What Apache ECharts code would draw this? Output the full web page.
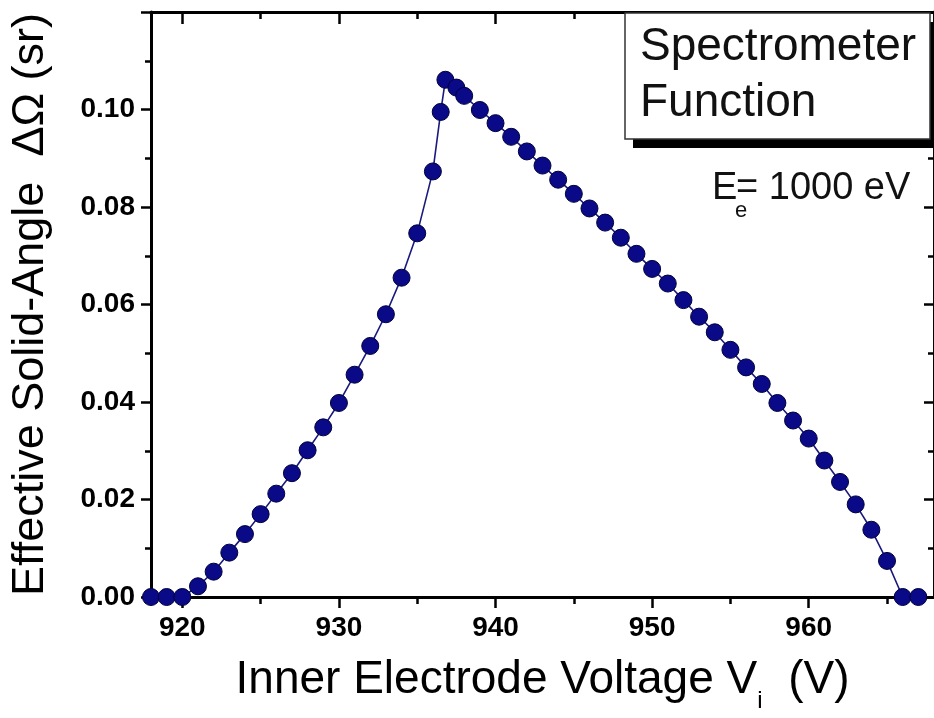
<!DOCTYPE html>
<html>
<head>
<meta charset="utf-8">
<script src="https://cdn.jsdelivr.net/npm/echarts@6/dist/echarts.min.js"></script>
<style>
  html, body { margin: 0; padding: 0; background: #fff; }
  #main { width: 934px; height: 718px; }
</style>
</head>
<body>
<div id="main"></div>
<script>
// 数据：内电极电压 (V) 与有效立体角 (sr)
var voltages = [918, 919, 920, 921, 922, 923, 924, 925, 926, 927, 928, 929,
  930, 931, 932, 933, 934, 935, 936, 936.5, 936.8, 937.5, 938, 939,
  940, 941, 942, 943, 944, 945, 946, 947, 948, 949, 950, 951, 952, 953,
  954, 955, 956, 957, 958, 959, 960, 961, 962, 963, 964, 965, 966, 967];
var solidAngle = [0, 0, 0, 0.0022, 0.0052, 0.0091, 0.0129, 0.0170, 0.0212, 0.0254, 0.0301, 0.0348,
  0.0398, 0.0456, 0.0515, 0.0580, 0.0655, 0.0746, 0.0873, 0.0995, 0.1061, 0.1045, 0.1028, 0.0999,
  0.0972, 0.0944, 0.0914, 0.0885, 0.0856, 0.0827, 0.0797, 0.0768, 0.0737, 0.0704, 0.0673, 0.0643, 0.0609, 0.0575,
  0.0543, 0.0507, 0.0471, 0.0437, 0.0398, 0.0362, 0.0325, 0.0280, 0.0236, 0.0190, 0.0138, 0.0074, 0, 0];

// 刻度
var xLabels = [920, 930, 940, 950, 960];
var xMinor = [925, 935, 945, 955, 965];

var chart = echarts.init(document.getElementById('main'));

var axisLineStyle = { color: '#000', width: 3 };
var fontName = '"Liberation Sans", Arial, sans-serif';
var xMin = 918, xMax = 968;

function xAxisPart(pos, ticks, len, inside, extra) {
  return Object.assign({
    type: 'value',
    position: pos,
    min: xMin,
    max: xMax,
    axisLine: { show: true, onZero: false, lineStyle: axisLineStyle },
    axisTick: { show: true, inside: inside, length: len, customValues: ticks, lineStyle: { color: '#000', width: 2.5 } },
    axisLabel: { show: false },
    splitLine: { show: false }
  }, extra || {});
}

var option = {
  backgroundColor: '#fff',
  animation: false,
  grid: { left: 148, right: -7, top: 12, bottom: 121 },
  xAxis: [
    xAxisPart('bottom', xLabels, 11, false, {
      name: 'Inner Electrode Voltage V{sub|i}  (V)',
      nameLocation: 'middle',
      nameGap: 49,
      nameTextStyle: {
        fontFamily: fontName,
        fontSize: 46,
        color: '#000',
        lineHeight: 66,
        rich: {
          sub: { fontSize: 24, lineHeight: 2, verticalAlign: 'bottom', color: '#000', fontFamily: fontName }
        }
      },
      axisLabel: {
        show: true,
        customValues: xLabels,
        margin: 17,
        fontFamily: fontName,
        fontWeight: 'bold',
        fontSize: 28,
        color: '#000'
      }
    }),
    xAxisPart('bottom', xMinor, 7, false),
    xAxisPart('top', xLabels, 12, true),
    xAxisPart('top', xMinor, 7, true)
  ],
  yAxis: [
    {
      type: 'value',
      position: 'left',
      min: 0,
      max: 0.12,
      interval: 0.02,
      name: 'Effective Solid-Angle  \u0394\u03A9 (sr)',
      nameLocation: 'middle',
      nameGap: 98,
      nameTextStyle: {
        fontFamily: fontName,
        fontSize: 45,
        color: '#000'
      },
      axisLine: { show: true, onZero: false, lineStyle: axisLineStyle },
      axisTick: { show: true, inside: false, length: 10, lineStyle: { color: '#000', width: 2.5 } },
      minorTick: { show: true, splitNumber: 2, length: 6, lineStyle: { color: '#000', width: 2.5 } },
      axisLabel: {
        margin: 16,
        fontFamily: fontName,
        fontWeight: 'bold',
        fontSize: 28,
        color: '#000',
        formatter: function (v) { return v > 0.119 ? '' : v.toFixed(2); }
      },
      splitLine: { show: false }
    },
    {
      type: 'value',
      position: 'right',
      min: 0,
      max: 0.12,
      interval: 0.02,
      axisLine: { show: true, onZero: false, lineStyle: axisLineStyle },
      axisTick: { show: true, inside: true, length: 10, lineStyle: { color: '#000', width: 2.5 } },
      minorTick: { show: true, splitNumber: 2, length: 6, lineStyle: { color: '#000', width: 2.5 } },
      axisLabel: { show: false },
      splitLine: { show: false }
    }
  ],
  series: [
    {
      type: 'line',
      xAxisIndex: 0,
      yAxisIndex: 0,
      data: voltages.map(function (v, i) { return [v, solidAngle[i]]; }),
      symbol: 'circle',
      symbolSize: 17,
      showAllSymbol: true,
      lineStyle: { color: '#1a1a7e', width: 1.6 },
      itemStyle: { color: '#0a0a88', borderColor: '#00003c', borderWidth: 1 },
      z: 3
    }
  ],
  graphic: [
    // 图框阴影
    {
      type: 'rect',
      z: 10,
      shape: { x: 633, y: 22, width: 310, height: 126 },
      style: { fill: '#000' }
    },
    {
      type: 'rect',
      z: 11,
      shape: { x: 625, y: 13, width: 305, height: 126 },
      style: { fill: '#fff', stroke: '#333', lineWidth: 1.5 }
    },
    {
      type: 'text', z: 12,
      style: { x: 640, y: 47, text: 'Spectrometer', fill: '#111', font: '46px ' + fontName, textVerticalAlign: 'middle' }
    },
    {
      type: 'text', z: 12,
      style: { x: 640, y: 103, text: 'Function', fill: '#111', font: '46px ' + fontName, textVerticalAlign: 'middle' }
    },
    {
      type: 'text', z: 12,
      style: { x: 712, y: 189, text: 'E', fill: '#111', font: '38px ' + fontName, textVerticalAlign: 'middle' }
    },
    {
      type: 'text', z: 12,
      style: { x: 735, y: 211, text: 'e', fill: '#111', font: '22px ' + fontName, textVerticalAlign: 'middle' }
    },
    {
      type: 'text', z: 12,
      style: { x: 736, y: 189, text: '= 1000 eV', fill: '#111', font: '38px ' + fontName, textVerticalAlign: 'middle' }
    }
  ]
};

chart.setOption(option);
</script>
</body>
</html>
